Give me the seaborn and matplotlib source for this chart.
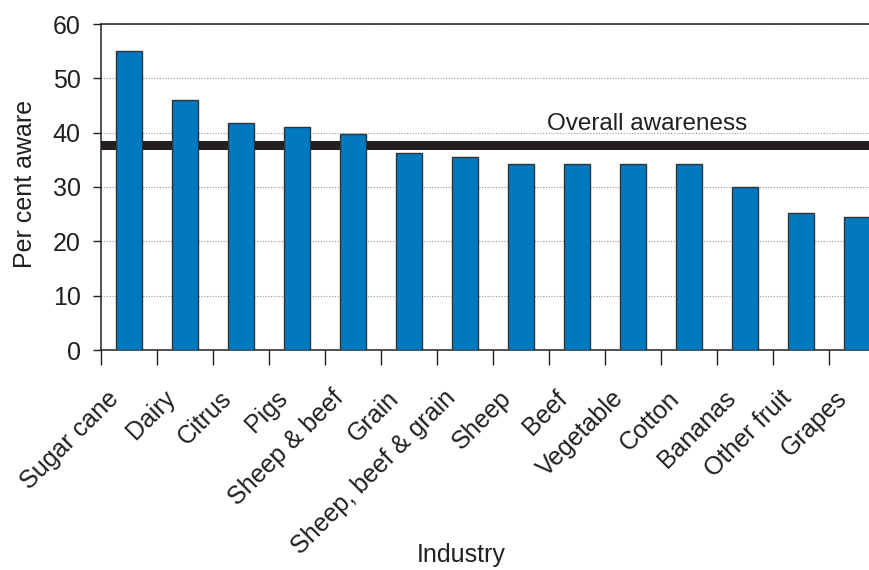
import matplotlib
matplotlib.use("Agg")
import matplotlib.pyplot as plt
import matplotlib.transforms as mtransforms
import seaborn as sns
import pandas as pd

industries = ["Sugar cane", "Dairy", "Citrus", "Pigs", "Sheep & beef", "Grain",
              "Sheep, beef & grain", "Sheep", "Beef", "Vegetable", "Cotton",
              "Bananas", "Other fruit", "Grapes"]
pct_aware = [55.0, 46.0, 41.8, 41.1, 39.8, 36.3, 35.6, 34.2, 34.2, 34.2, 34.2,
             30.0, 25.2, 24.4]
overall_awareness = 37.8
y_ticks = [0, 10, 20, 30, 40, 50, 60]

sns.set_theme(style="ticks")
plt.rcParams["font.family"] = ["Liberation Sans", "DejaVu Sans"]
text_col = "#231f20"

df = pd.DataFrame({"Industry": industries, "Per cent aware": pct_aware})

fig = plt.figure(figsize=(8.69, 5.70), dpi=100)
ax = fig.add_axes([101 / 869, 1 - 350 / 570, 784 / 869, 326 / 570])

# overall awareness reference band sits behind the bars
ax.axhline(overall_awareness, color="#231f20", lw=6.5, zorder=1)

sns.barplot(data=df, x="Industry", y="Per cent aware", color="#0079c1",
            saturation=1, width=0.45, edgecolor="#333333", linewidth=1.0,
            ax=ax, zorder=3)

ax.set_xlim(-0.5, len(industries) - 0.5)
ax.set_ylim(0, 60)
ax.set_yticks(y_ticks)
ax.yaxis.grid(True, linestyle=(0, (1, 1.5)), color="#9a9a9a", lw=0.8, zorder=0)
ax.set_axisbelow(True)

# category boundary ticks on the x axis
ax.set_xticks(range(len(industries)))
ax.set_xticks([i - 0.5 for i in range(len(industries))], minor=True)
ax.tick_params(axis="x", which="minor", bottom=True, length=11, width=1,
               color=text_col, direction="out")
ax.tick_params(axis="x", which="major", bottom=True, length=0, pad=26,
               labelsize=18, labelcolor=text_col)
ax.tick_params(axis="y", which="major", left=True, length=6, width=1, color=text_col,
               direction="out", labelsize=18, labelcolor=text_col, pad=8.5)
ax.set_xticklabels(industries, rotation=45, ha="right", va="top",
                   rotation_mode="anchor")
shift = mtransforms.ScaledTranslation(-0.22, 0, fig.dpi_scale_trans)
for lab in ax.get_xticklabels():
    lab.set_transform(lab.get_transform() + shift)

for side in ["left", "bottom", "top"]:
    ax.spines[side].set_visible(True)
    ax.spines[side].set_color(text_col)
    ax.spines[side].set_linewidth(1.1)
ax.spines["right"].set_visible(False)

ax.set_xlabel("Industry", fontsize=18, color=text_col)
ax.set_ylabel("Per cent aware", fontsize=18, color=text_col)
ax.xaxis.set_label_coords(0.459, -0.592)
ax.yaxis.set_label_coords(-0.082, 0.51)

ax.text(9.25, 40.5, "Overall awareness", ha="center", va="baseline",
        fontsize=17.5, color=text_col)

fig.savefig("out.png", dpi=100)
